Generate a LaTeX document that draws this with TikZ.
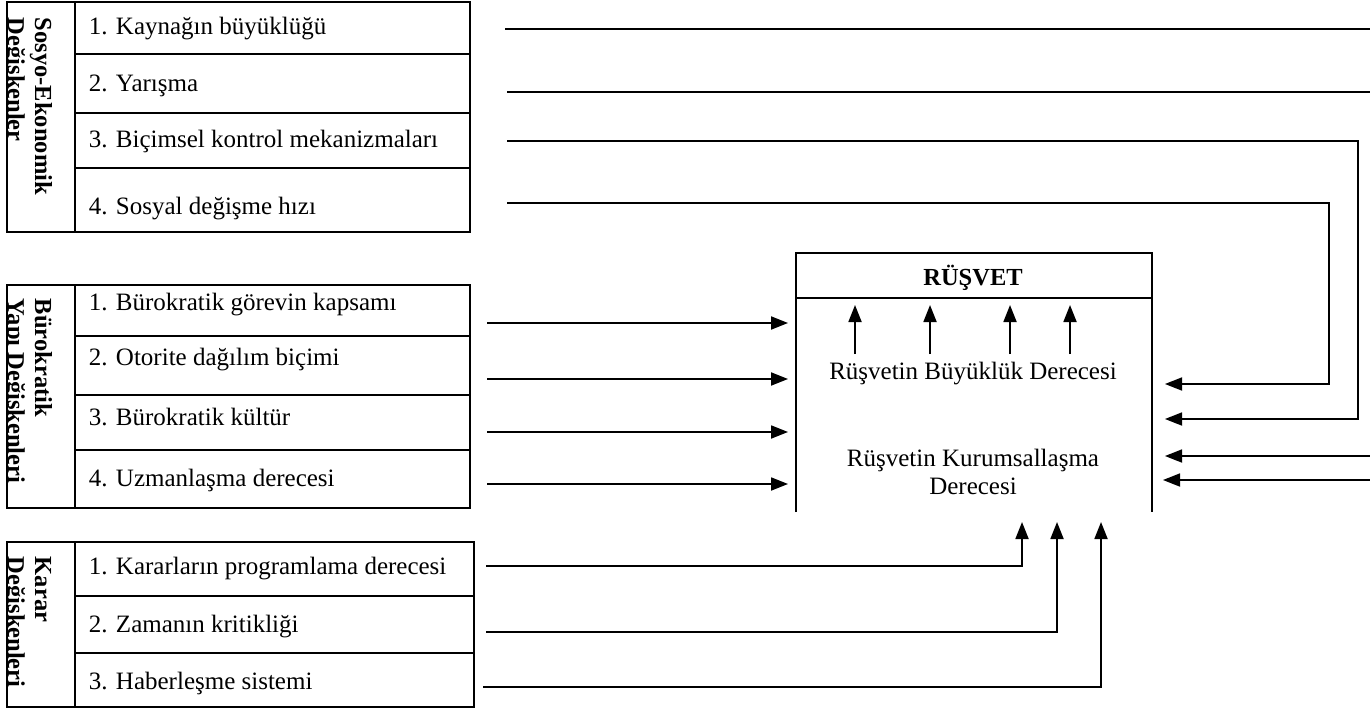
\documentclass[tikz,border=0pt]{standalone}
\usepackage{fontspec}
\setmainfont{Liberation Serif}
\usetikzlibrary{arrows.meta}
\begin{document}
\begin{tikzpicture}[x=1pt,y=-1pt,line width=1.8pt,
  txt/.style={anchor=base west,inner sep=0pt,font=\fontsize{25}{29}\selectfont},
  ctxt/.style={anchor=base,inner sep=0pt,font=\fontsize{25}{29}\selectfont},
  vlab/.style={anchor=base west,rotate=-90,inner sep=0pt,font=\fontsize{24.5}{29}\selectfont\bfseries},
  frame/.style={line width=2pt},
  conn/.style={line width=1.8pt},
  arr/.style={line width=1.8pt,-{Triangle[length=17pt,width=13pt]}}
]
\useasboundingbox (0,0) rectangle (1370,711);

% ---------- Sosyo-Ekonomik Değişkenler ----------
\draw[frame] (7,2) rectangle (470,232);
\draw[frame] (75,2) -- (75,232);
\foreach \y in {54,113,168} \draw[frame] (75,\y) -- (470,\y);
\begin{scope}
  \clip (8,3) rectangle (74,231);
  \node[vlab] (g1la) at (35,17) {Sosyo-Ekonomik};
  \node[vlab] (g1lb) at (8,17) {Değişkenler};
\end{scope}
\node[txt] (g1a) at (88,35)  {1. Kaynağın büyüklüğü};
\node[txt] (g1b) at (88,92)  {2. Yarışma};
\node[txt] (g1c) at (88,148) {3. Biçimsel kontrol mekanizmaları};
\node[txt] (g1d) at (88,215) {4. Sosyal değişme hızı};

% ---------- Bürokratik Yapı Değişkenleri ----------
\draw[frame] (7,285) rectangle (470,508);
\draw[frame] (75,285) -- (75,508);
\foreach \y in {336,395,450} \draw[frame] (75,\y) -- (470,\y);
\begin{scope}
  \clip (8,286) rectangle (74,507);
  \node[vlab] (g2la) at (35,298) {Bürokratik};
  \node[vlab] (g2lb) at (8,298) {Yapı Değişkenleri};
\end{scope}
\node[txt] (g2a) at (88,310) {1. Bürokratik görevin kapsamı};
\node[txt] (g2b) at (88,365) {2. Otorite dağılım biçimi};
\node[txt] (g2c) at (88,425) {3. Bürokratik kültür};
\node[txt] (g2d) at (88,486) {4. Uzmanlaşma derecesi};

% ---------- Karar Değişkenleri ----------
\draw[frame] (7,542) rectangle (474,707);
\draw[frame] (75,542) -- (75,707);
\foreach \y in {596,653} \draw[frame] (75,\y) -- (474,\y);
\begin{scope}
  \clip (8,543) rectangle (74,706);
  \node[vlab] (g3la) at (35,556) {Karar};
  \node[vlab] (g3lb) at (8,556) {Değişkenleri};
\end{scope}
\node[txt] (g3a) at (88,574) {1. Kararların programlama derecesi};
\node[txt] (g3b) at (88,632) {2. Zamanın kritikliği};
\node[txt] (g3c) at (88,689) {3. Haberleşme sistemi};

% ---------- RÜŞVET ----------
\draw[frame] (796,512) -- (796,253) -- (1152,253) -- (1152,512);
\draw[frame] (796,298) -- (1152,298);
\node[ctxt,font=\fontsize{24.5}{29}\selectfont\bfseries] (rusvet) at (973,285) {RÜŞVET};
\node[ctxt] (buyuk) at (973,379) {Rüşvetin Büyüklük Derecesi};
\node[ctxt] (kurum) at (973,466) {Rüşvetin Kurumsallaşma};
\node[ctxt] (kurumb) at (973,494) {Derecesi};
\foreach \x in {855,930,1010,1070} \draw[arr] (\x,354) -- (\x,305);

% ---------- connector end points ----------
\coordinate (s1) at (505,29);
\coordinate (s2) at (507,92);
\coordinate (s3) at (507,141);
\coordinate (s4) at (507,203);
\coordinate (e1) at (1370,29);
\coordinate (e2) at (1370,92);
\coordinate (r1) at (1370,456);
\coordinate (r2) at (1370,480);
\coordinate (b1) at (487,323);
\coordinate (b2) at (487,379);
\coordinate (b3) at (487,432);
\coordinate (b4) at (487,484);
\coordinate (k1) at (486,566);
\coordinate (k2) at (486,632);
\coordinate (k3) at (483,687);

% socio-economic inputs, entering from the right
\draw[conn] (s1) -- (e1);
\draw[conn] (s2) -- (e2);
\draw[arr] (s3) -| (1358,419) -- (1165,419);
\draw[arr] (s4) -| (1329,384) -- (1165,384);
\draw[arr] (r1) -- (1165,456);
\draw[arr] (r2) -- (1163,480);

% bureaucratic structure inputs, entering from the left
\draw[arr] (b1) -- (788,323);
\draw[arr] (b2) -- (788,379);
\draw[arr] (b3) -- (788,432);
\draw[arr] (b4) -- (788,484);

% decision inputs, entering from below
\draw[arr] (k1) -| (1022,522);
\draw[arr] (k2) -| (1057,522);
\draw[arr] (k3) -| (1101,522);
\end{tikzpicture}
\end{document}
